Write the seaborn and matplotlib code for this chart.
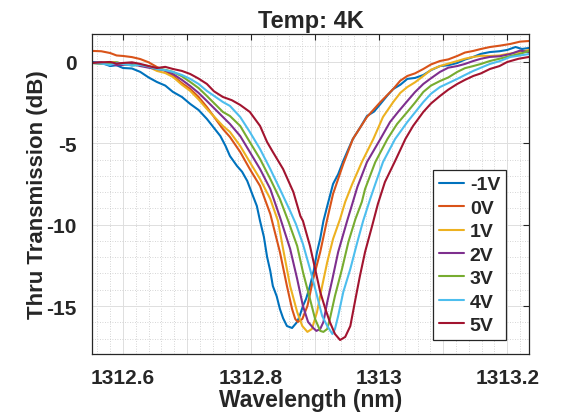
import matplotlib
matplotlib.use("Agg")
import matplotlib.pyplot as plt
import seaborn as sns
import pandas as pd
from matplotlib.ticker import MultipleLocator, FixedLocator, FixedFormatter

sns.set_theme(style="white")
plt.rcParams['font.family'] = ['Liberation Sans', 'DejaVu Sans']
plt.rcParams['axes.unicode_minus'] = False

labels = ['-1V', '0V', '1V', '2V', '3V', '4V', '5V']
colors = ['#0072BD', '#D95319', '#EDB120', '#7E2F8E', '#77AC30', '#4DBEEE', '#A2142F']

# wavelength (nm) / transmission (dB) samples, per bias
wl_m1 = [1312.552, 1312.566, 1312.580, 1312.590, 1312.600, 1312.614, 1312.627, 1312.640, 1312.653, 1312.666,
         1312.678, 1312.692, 1312.705, 1312.718, 1312.731, 1312.742, 1312.752, 1312.760, 1312.767, 1312.778,
         1312.786, 1312.794, 1312.803, 1312.809, 1312.814, 1312.820, 1312.825, 1312.830, 1312.834, 1312.840,
         1312.845, 1312.850, 1312.856, 1312.864, 1312.872, 1312.876, 1312.881, 1312.886, 1312.892, 1312.898,
         1312.903, 1312.908, 1312.913, 1312.920, 1312.928, 1312.936, 1312.944, 1312.952, 1312.959, 1312.970,
         1312.981, 1312.992, 1313.002, 1313.013, 1313.022, 1313.033, 1313.044, 1313.056, 1313.069, 1313.081,
         1313.095, 1313.108, 1313.122, 1313.134, 1313.147, 1313.159, 1313.173, 1313.188, 1313.200, 1313.213,
         1313.223, 1313.234]
db_m1 = [0.00, -0.05, -0.25, -0.20, -0.37, -0.40, -0.61, -0.95, -1.23, -1.45,
         -1.84, -2.15, -2.58, -2.95, -3.50, -4.05, -4.55, -5.15, -5.78, -6.39,
         -6.75, -7.31, -8.24, -8.85, -9.77, -10.75, -11.98, -12.85, -13.77, -14.40,
         -15.18, -15.75, -16.23, -16.35, -15.98, -15.60, -15.00, -14.55, -13.77, -12.80,
         -11.68, -10.85, -9.77, -8.70, -7.50, -6.90, -6.08, -5.35, -4.73, -4.05,
         -3.32, -3.05, -2.58, -2.05, -1.66, -1.40, -1.04, -0.98, -0.80, -0.50,
         -0.25, -0.20, -0.06, 0.15, 0.31, 0.50, 0.61, 0.66, 0.74, 0.92,
         0.80, 0.86]

wl_0 = [1312.552, 1312.580, 1312.600, 1312.627, 1312.653, 1312.678, 1312.705, 1312.731, 1312.756, 1312.767,
        1312.783, 1312.798, 1312.814, 1312.830, 1312.845, 1312.856, 1312.864, 1312.869, 1312.873, 1312.880,
        1312.888, 1312.897, 1312.908, 1312.919, 1312.928, 1312.944, 1312.959, 1312.981, 1313.002, 1313.022,
        1313.044, 1313.069, 1313.095, 1313.122, 1313.147, 1313.173, 1313.205, 1313.234,
        1312.566, 1312.590, 1312.614, 1312.640, 1312.666, 1312.692, 1312.718, 1313.033, 1313.056, 1313.081,
        1313.108, 1313.134, 1313.159, 1313.188, 1313.220]
db_0 = [0.68, 0.55, 0.37, 0.18, -0.31, -0.86, -1.66, -2.77, -4.12, -4.61,
        -5.53, -6.58, -7.62, -9.34, -11.68, -13.77, -15.18, -15.80, -15.98, -15.80,
        -15.00, -13.34, -11.68, -9.65, -8.11, -6.27, -4.73, -3.38, -2.46, -1.66,
        -0.86, -0.43, 0.06, 0.37, 0.68, 0.92, 1.11, 1.29,
        0.66, 0.40, 0.30, -0.02, -0.55, -1.30, -2.15, -1.15, -0.70, -0.15,
        0.16, 0.58, 0.80, 1.00, 1.25]

wl_1 = [1312.552, 1312.580, 1312.600, 1312.627, 1312.653, 1312.678, 1312.705, 1312.731, 1312.756, 1312.767,
        1312.783, 1312.798, 1312.814, 1312.830, 1312.842, 1312.850, 1312.861, 1312.872, 1312.880, 1312.888,
        1312.895, 1312.903, 1312.911, 1312.919, 1312.928, 1312.939, 1312.947, 1312.958, 1312.973, 1312.991,
        1313.006, 1313.022, 1313.044, 1313.069, 1313.095, 1313.122, 1313.147, 1313.173, 1313.200, 1313.234,
        1312.566, 1312.590, 1312.614, 1312.640, 1312.666, 1312.692, 1312.718, 1313.033, 1313.056, 1313.081,
        1313.108, 1313.134, 1313.159, 1313.188, 1313.218]
db_1 = [-0.06, 0.00, -0.12, -0.18, -0.55, -0.92, -1.78, -2.89, -3.93, -4.30,
        -5.16, -6.15, -7.19, -8.42, -9.77, -11.49, -13.77, -15.37, -16.23, -16.59,
        -16.41, -15.37, -13.77, -12.29, -10.88, -9.65, -8.60, -7.50, -6.15, -4.73,
        -3.38, -2.46, -1.54, -0.86, -0.25, 0.06, 0.31, 0.37, 0.49, 0.74,
        -0.10, -0.02, -0.20, -0.30, -0.68, -1.40, -2.30, -1.90, -1.25, -0.48,
        -0.10, 0.20, 0.38, 0.40, 0.60]

wl_2 = [1312.552, 1312.580, 1312.600, 1312.627, 1312.653, 1312.678, 1312.705, 1312.731, 1312.756, 1312.767,
        1312.783, 1312.798, 1312.814, 1312.830, 1312.845, 1312.861, 1312.872, 1312.881, 1312.889, 1312.897,
        1312.902, 1312.908, 1312.913, 1312.919, 1312.927, 1312.936, 1312.950, 1312.958, 1312.966, 1312.981,
        1313.002, 1313.017, 1313.044, 1313.069, 1313.095, 1313.122, 1313.147, 1313.173, 1313.205, 1313.234,
        1312.566, 1312.590, 1312.614, 1312.640, 1312.666, 1312.692, 1312.718, 1313.030, 1313.056, 1313.081,
        1313.108, 1313.134, 1313.159, 1313.188, 1313.220]
db_2 = [-0.06, -0.12, -0.18, -0.25, -0.43, -0.74, -1.48, -2.40, -3.38, -3.81,
        -4.55, -5.53, -6.58, -7.81, -9.53, -11.49, -13.34, -15.00, -15.98, -16.35,
        -16.53, -16.41, -15.98, -14.75, -13.34, -11.68, -9.77, -8.73, -7.68, -6.15,
        -4.73, -3.69, -2.40, -1.35, -0.61, -0.25, 0.06, 0.31, 0.49, 0.61,
        -0.02, -0.20, -0.12, -0.35, -0.52, -1.10, -1.90, -3.05, -1.85, -1.00,
        -0.35, -0.12, 0.20, 0.35, 0.70]

wl_3 = [1312.552, 1312.580, 1312.600, 1312.627, 1312.653, 1312.678, 1312.705, 1312.731, 1312.756, 1312.767,
        1312.783, 1312.798, 1312.814, 1312.830, 1312.845, 1312.858, 1312.872, 1312.881, 1312.892, 1312.900,
        1312.908, 1312.913, 1312.919, 1312.923, 1312.931, 1312.942, 1312.952, 1312.963, 1312.973, 1312.978,
        1312.994, 1313.013, 1313.028, 1313.044, 1313.069, 1313.095, 1313.122, 1313.147, 1313.173, 1313.205,
        1313.234,
        1312.566, 1312.590, 1312.614, 1312.640, 1312.666, 1312.692, 1312.718, 1313.056, 1313.081, 1313.108,
        1313.134, 1313.159, 1313.188, 1313.220]
db_3 = [-0.06, -0.06, -0.12, -0.18, -0.43, -0.61, -1.23, -2.09, -3.07, -3.32,
        -3.93, -4.92, -5.96, -7.19, -8.42, -9.77, -11.31, -12.91, -14.57, -15.80,
        -16.53, -16.59, -16.41, -15.80, -14.38, -12.72, -11.06, -9.65, -8.60, -7.81,
        -6.15, -4.73, -3.81, -3.07, -1.84, -1.17, -0.61, -0.25, 0.06, 0.37,
        0.68,
        -0.12, -0.02, -0.20, -0.25, -0.48, -0.88, -1.60, -2.50, -1.45, -0.95,
        -0.38, -0.12, 0.20, 0.50]

wl_4 = [1312.552, 1312.580, 1312.600, 1312.627, 1312.653, 1312.678, 1312.705, 1312.731, 1312.756, 1312.767,
        1312.783, 1312.798, 1312.814, 1312.830, 1312.845, 1312.861, 1312.870, 1312.881, 1312.892, 1312.903,
        1312.911, 1312.919, 1312.927, 1312.931, 1312.936, 1312.944, 1312.955, 1312.966, 1312.975, 1312.986,
        1312.994, 1313.006, 1313.025, 1313.044, 1313.069, 1313.095, 1313.122, 1313.147, 1313.173, 1313.205,
        1313.234,
        1312.566, 1312.590, 1312.614, 1312.640, 1312.666, 1312.692, 1312.718, 1313.056, 1313.081, 1313.108,
        1313.134, 1313.159, 1313.188, 1313.220]
db_4 = [-0.06, -0.18, -0.12, -0.18, -0.43, -0.61, -1.04, -1.78, -2.46, -2.70,
        -3.38, -4.30, -5.35, -6.58, -7.81, -9.16, -9.96, -11.19, -12.72, -14.38,
        -15.61, -16.23, -16.72, -16.41, -15.61, -14.14, -12.72, -11.06, -9.77, -8.42,
        -7.50, -6.15, -4.73, -3.69, -2.46, -1.54, -1.04, -0.55, -0.12, 0.31,
        0.49,
        -0.10, -0.05, -0.22, -0.28, -0.50, -0.80, -1.35, -3.10, -1.95, -1.30,
        -0.80, -0.35, 0.05, 0.40]

wl_5 = [1312.552, 1312.580, 1312.600, 1312.627, 1312.653, 1312.678, 1312.705, 1312.731, 1312.756, 1312.783,
        1312.798, 1312.814, 1312.825, 1312.834, 1312.850, 1312.866, 1312.877, 1312.881, 1312.892, 1312.900,
        1312.908, 1312.916, 1312.923, 1312.931, 1312.939, 1312.947, 1312.955, 1312.963, 1312.970, 1312.978,
        1312.989, 1312.998, 1313.009, 1313.025, 1313.041, 1313.053, 1313.069, 1313.095, 1313.122, 1313.147,
        1313.173, 1313.200, 1313.234,
        1312.566, 1312.590, 1312.614, 1312.640, 1312.666, 1312.692, 1312.718, 1312.742, 1312.770, 1313.081,
        1313.108, 1313.134, 1313.159, 1313.188, 1313.218]
db_5 = [-0.06, 0.00, -0.06, -0.12, -0.37, -0.43, -0.74, -1.35, -2.15, -2.64,
        -3.07, -3.93, -4.92, -5.53, -6.58, -7.99, -9.47, -9.77, -11.31, -12.72,
        -14.14, -15.18, -15.98, -16.72, -17.09, -16.90, -16.23, -14.57, -13.15, -11.68,
        -10.08, -8.73, -7.38, -6.08, -4.73, -3.93, -3.07, -2.09, -1.35, -0.86,
        -0.43, 0.00, 0.31,
        -0.02, -0.10, -0.02, -0.25, -0.30, -0.55, -1.02, -1.80, -2.35, -2.55,
        -1.70, -1.10, -0.70, -0.25, 0.20]

series = [(wl_m1, db_m1), (wl_0, db_0), (wl_1, db_1), (wl_2, db_2),
          (wl_3, db_3), (wl_4, db_4), (wl_5, db_5)]
frames = []
for lab, (w, d) in zip(labels, series):
    frames.append(pd.DataFrame({'wl': w, 'db': d, 'bias': lab}))
df = pd.concat(frames, ignore_index=True)

text_c = '#262626'
fig = plt.figure(figsize=(5.69, 4.14), dpi=100)
ax = fig.add_axes([92/569, 59/414, 437/569, 320/414])

sns.lineplot(data=df, x='wl', y='db', hue='bias', hue_order=labels, palette=colors,
             sort=True, estimator=None, linewidth=1.5, ax=ax, legend=False)

ax.set_xlim(1312.5516, 1313.234)
ax.set_ylim(-17.95, 1.72)

xt = [1312.6, 1312.7, 1312.8, 1312.9, 1313.0, 1313.1, 1313.2]
xt_lab = ['1312.6', '', '1312.8', '', '1313', '', '1313.2']
ax.xaxis.set_major_locator(FixedLocator(xt))
ax.xaxis.set_major_formatter(FixedFormatter(xt_lab))
ax.xaxis.set_minor_locator(MultipleLocator(0.02))
yt = [-15, -10, -5, 0]
ax.yaxis.set_major_locator(FixedLocator(yt))
ax.yaxis.set_major_formatter(FixedFormatter(['-15', '-10', '-5', '0']))
ax.yaxis.set_minor_locator(MultipleLocator(1))

ax.set_axisbelow(True)
ax.grid(which='major', color='#dedede', linewidth=0.7, linestyle='-')
ax.grid(which='minor', color='#c8c8c8', linewidth=0.6, linestyle=(0, (1, 2)))

for s in ax.spines.values():
    s.set_visible(True)
    s.set_color(text_c)
    s.set_linewidth(0.9)

ax.tick_params(which='major', direction='in', length=4, width=0.8, color=text_c,
               top=True, right=True, labelsize=15, labelcolor=text_c)
ax.tick_params(which='minor', length=0, top=True, right=True)
ax.tick_params(axis='x', pad=10)
ax.tick_params(axis='y', pad=11)
for lab in ax.get_xticklabels() + ax.get_yticklabels():
    lab.set_fontweight('bold')

ax.set_xlabel('Wavelength (nm)', fontsize=16.5, fontweight='bold', color=text_c, labelpad=1)
ax.set_ylabel('Thru Transmission (dB)', fontsize=16, fontweight='bold', color=text_c, labelpad=-1)
ax.set_title('Temp: 4K', fontsize=17, fontweight='bold', color=text_c, pad=5)

handles = ax.get_lines()[:len(labels)]
leg = ax.legend(handles, labels, loc='lower right', bbox_to_anchor=(414/437, 14/320),
                borderaxespad=0, frameon=True, fancybox=False, handlelength=1.3,
                handletextpad=0.3, labelspacing=0.3, borderpad=0.3,
                prop={'weight': 'bold', 'size': 14})
leg.get_frame().set_edgecolor(text_c)
leg.get_frame().set_linewidth(0.9)
leg.get_frame().set_facecolor('white')
leg.get_frame().set_alpha(1)
for t in leg.get_texts():
    t.set_color(text_c)

fig.savefig('out.png', dpi=100)
